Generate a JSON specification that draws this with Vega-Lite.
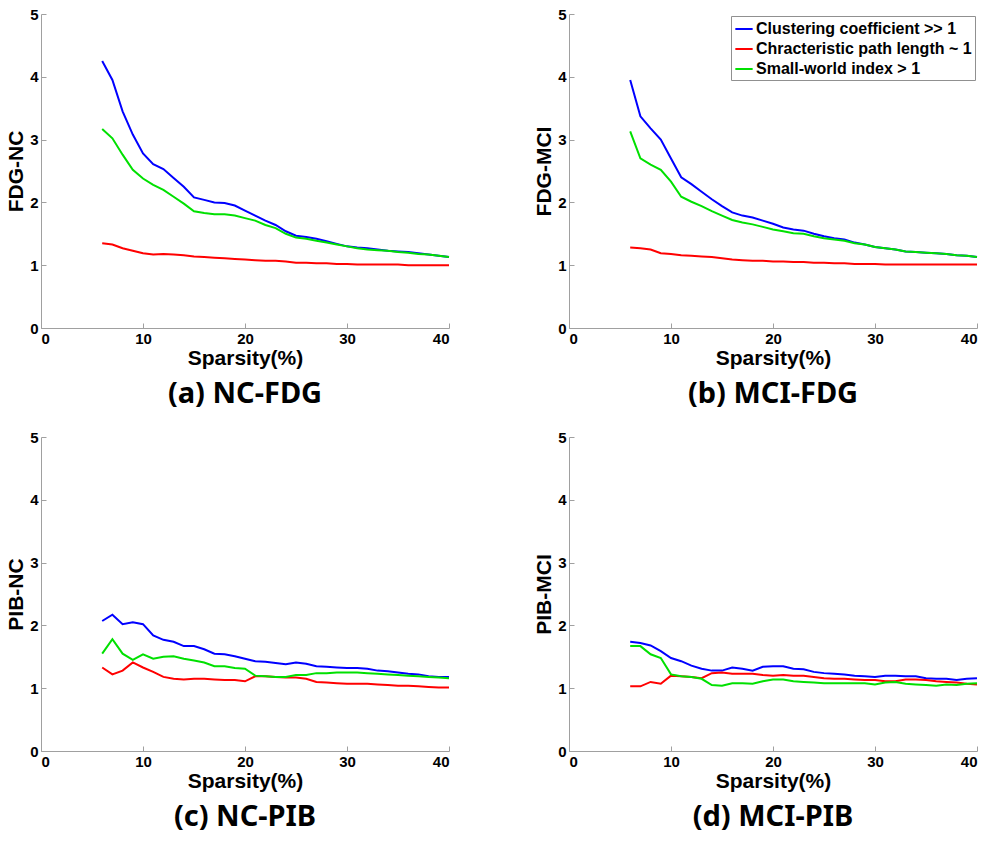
{
"$schema":"https://vega.github.io/schema/vega-lite/v6.json",
"padding":{"left":5,"top":7,"right":0,"bottom":0},
"config":{"view":{"stroke":null},"font":"Liberation Sans",
"axis":{"grid":false,"domainColor":"#a0a0a0","tickColor":"#a0a0a0","tickSize":-5,"labelPadding":8,"labelColor":"black","labelFont":"Liberation Sans","labelFontWeight":"bold","labelFontSize":15,"titleFont":"Liberation Sans","titleFontWeight":"bold","titleFontSize":21,"titleColor":"black"},
"axisX":{"titlePadding":1},
"axisY":{"titlePadding":3},
"title":{"font":"Noto Sans","fontWeight":"bold","fontSize":29,"color":"black","offset":12}},
"datasets":{
"a":[
{"x":6,"s":"C","y":4.25},{"x":7,"s":"C","y":3.95},{"x":8,"s":"C","y":3.45},{"x":9,"s":"C","y":3.08},{"x":10,"s":"C","y":2.78},{"x":11,"s":"C","y":2.61},{"x":12,"s":"C","y":2.53},{"x":13,"s":"C","y":2.39},{"x":14,"s":"C","y":2.25},{"x":15,"s":"C","y":2.08},{"x":16,"s":"C","y":2.04},{"x":17,"s":"C","y":2.0},{"x":18,"s":"C","y":1.99},{"x":19,"s":"C","y":1.95},{"x":20,"s":"C","y":1.87},{"x":21,"s":"C","y":1.79},{"x":22,"s":"C","y":1.71},{"x":23,"s":"C","y":1.64},{"x":24,"s":"C","y":1.54},{"x":25,"s":"C","y":1.47},{"x":26,"s":"C","y":1.45},{"x":27,"s":"C","y":1.42},{"x":28,"s":"C","y":1.38},{"x":29,"s":"C","y":1.34},{"x":30,"s":"C","y":1.3},{"x":31,"s":"C","y":1.28},{"x":32,"s":"C","y":1.27},{"x":33,"s":"C","y":1.25},{"x":34,"s":"C","y":1.23},{"x":35,"s":"C","y":1.22},{"x":36,"s":"C","y":1.21},{"x":37,"s":"C","y":1.19},{"x":38,"s":"C","y":1.17},{"x":39,"s":"C","y":1.15},{"x":40,"s":"C","y":1.13},
{"x":6,"s":"L","y":1.35},{"x":7,"s":"L","y":1.33},{"x":8,"s":"L","y":1.27},{"x":9,"s":"L","y":1.23},{"x":10,"s":"L","y":1.19},{"x":11,"s":"L","y":1.17},{"x":12,"s":"L","y":1.18},{"x":13,"s":"L","y":1.17},{"x":14,"s":"L","y":1.16},{"x":15,"s":"L","y":1.14},{"x":16,"s":"L","y":1.13},{"x":17,"s":"L","y":1.12},{"x":18,"s":"L","y":1.11},{"x":19,"s":"L","y":1.1},{"x":20,"s":"L","y":1.09},{"x":21,"s":"L","y":1.08},{"x":22,"s":"L","y":1.07},{"x":23,"s":"L","y":1.07},{"x":24,"s":"L","y":1.06},{"x":25,"s":"L","y":1.04},{"x":26,"s":"L","y":1.04},{"x":27,"s":"L","y":1.03},{"x":28,"s":"L","y":1.03},{"x":29,"s":"L","y":1.02},{"x":30,"s":"L","y":1.02},{"x":31,"s":"L","y":1.01},{"x":32,"s":"L","y":1.01},{"x":33,"s":"L","y":1.01},{"x":34,"s":"L","y":1.01},{"x":35,"s":"L","y":1.01},{"x":36,"s":"L","y":1.0},{"x":37,"s":"L","y":1.0},{"x":38,"s":"L","y":1.0},{"x":39,"s":"L","y":1.0},{"x":40,"s":"L","y":1.0},
{"x":6,"s":"S","y":3.17},{"x":7,"s":"S","y":3.02},{"x":8,"s":"S","y":2.76},{"x":9,"s":"S","y":2.52},{"x":10,"s":"S","y":2.38},{"x":11,"s":"S","y":2.28},{"x":12,"s":"S","y":2.2},{"x":13,"s":"S","y":2.09},{"x":14,"s":"S","y":1.98},{"x":15,"s":"S","y":1.86},{"x":16,"s":"S","y":1.83},{"x":17,"s":"S","y":1.81},{"x":18,"s":"S","y":1.81},{"x":19,"s":"S","y":1.79},{"x":20,"s":"S","y":1.75},{"x":21,"s":"S","y":1.71},{"x":22,"s":"S","y":1.64},{"x":23,"s":"S","y":1.59},{"x":24,"s":"S","y":1.5},{"x":25,"s":"S","y":1.44},{"x":26,"s":"S","y":1.42},{"x":27,"s":"S","y":1.39},{"x":28,"s":"S","y":1.36},{"x":29,"s":"S","y":1.33},{"x":30,"s":"S","y":1.3},{"x":31,"s":"S","y":1.27},{"x":32,"s":"S","y":1.25},{"x":33,"s":"S","y":1.24},{"x":34,"s":"S","y":1.23},{"x":35,"s":"S","y":1.21},{"x":36,"s":"S","y":1.2},{"x":37,"s":"S","y":1.18},{"x":38,"s":"S","y":1.17},{"x":39,"s":"S","y":1.15},{"x":40,"s":"S","y":1.13}
],
"b":[
{"x":6,"s":"C","y":3.95},{"x":7,"s":"C","y":3.37},{"x":8,"s":"C","y":3.18},{"x":9,"s":"C","y":3.0},{"x":10,"s":"C","y":2.7},{"x":11,"s":"C","y":2.4},{"x":12,"s":"C","y":2.29},{"x":13,"s":"C","y":2.17},{"x":14,"s":"C","y":2.05},{"x":15,"s":"C","y":1.94},{"x":16,"s":"C","y":1.84},{"x":17,"s":"C","y":1.79},{"x":18,"s":"C","y":1.76},{"x":19,"s":"C","y":1.71},{"x":20,"s":"C","y":1.66},{"x":21,"s":"C","y":1.6},{"x":22,"s":"C","y":1.57},{"x":23,"s":"C","y":1.55},{"x":24,"s":"C","y":1.5},{"x":25,"s":"C","y":1.46},{"x":26,"s":"C","y":1.43},{"x":27,"s":"C","y":1.41},{"x":28,"s":"C","y":1.36},{"x":29,"s":"C","y":1.33},{"x":30,"s":"C","y":1.29},{"x":31,"s":"C","y":1.27},{"x":32,"s":"C","y":1.25},{"x":33,"s":"C","y":1.22},{"x":34,"s":"C","y":1.21},{"x":35,"s":"C","y":1.2},{"x":36,"s":"C","y":1.19},{"x":37,"s":"C","y":1.18},{"x":38,"s":"C","y":1.16},{"x":39,"s":"C","y":1.15},{"x":40,"s":"C","y":1.13},
{"x":6,"s":"L","y":1.28},{"x":7,"s":"L","y":1.27},{"x":8,"s":"L","y":1.25},{"x":9,"s":"L","y":1.19},{"x":10,"s":"L","y":1.18},{"x":11,"s":"L","y":1.16},{"x":12,"s":"L","y":1.15},{"x":13,"s":"L","y":1.14},{"x":14,"s":"L","y":1.13},{"x":15,"s":"L","y":1.11},{"x":16,"s":"L","y":1.09},{"x":17,"s":"L","y":1.08},{"x":18,"s":"L","y":1.07},{"x":19,"s":"L","y":1.07},{"x":20,"s":"L","y":1.06},{"x":21,"s":"L","y":1.06},{"x":22,"s":"L","y":1.05},{"x":23,"s":"L","y":1.05},{"x":24,"s":"L","y":1.04},{"x":25,"s":"L","y":1.04},{"x":26,"s":"L","y":1.03},{"x":27,"s":"L","y":1.03},{"x":28,"s":"L","y":1.02},{"x":29,"s":"L","y":1.02},{"x":30,"s":"L","y":1.02},{"x":31,"s":"L","y":1.01},{"x":32,"s":"L","y":1.01},{"x":33,"s":"L","y":1.01},{"x":34,"s":"L","y":1.01},{"x":35,"s":"L","y":1.01},{"x":36,"s":"L","y":1.01},{"x":37,"s":"L","y":1.01},{"x":38,"s":"L","y":1.01},{"x":39,"s":"L","y":1.01},{"x":40,"s":"L","y":1.01},
{"x":6,"s":"S","y":3.13},{"x":7,"s":"S","y":2.7},{"x":8,"s":"S","y":2.6},{"x":9,"s":"S","y":2.52},{"x":10,"s":"S","y":2.33},{"x":11,"s":"S","y":2.09},{"x":12,"s":"S","y":2.01},{"x":13,"s":"S","y":1.94},{"x":14,"s":"S","y":1.86},{"x":15,"s":"S","y":1.79},{"x":16,"s":"S","y":1.72},{"x":17,"s":"S","y":1.68},{"x":18,"s":"S","y":1.65},{"x":19,"s":"S","y":1.61},{"x":20,"s":"S","y":1.57},{"x":21,"s":"S","y":1.54},{"x":22,"s":"S","y":1.51},{"x":23,"s":"S","y":1.5},{"x":24,"s":"S","y":1.46},{"x":25,"s":"S","y":1.43},{"x":26,"s":"S","y":1.41},{"x":27,"s":"S","y":1.39},{"x":28,"s":"S","y":1.35},{"x":29,"s":"S","y":1.33},{"x":30,"s":"S","y":1.29},{"x":31,"s":"S","y":1.27},{"x":32,"s":"S","y":1.25},{"x":33,"s":"S","y":1.22},{"x":34,"s":"S","y":1.21},{"x":35,"s":"S","y":1.2},{"x":36,"s":"S","y":1.19},{"x":37,"s":"S","y":1.18},{"x":38,"s":"S","y":1.16},{"x":39,"s":"S","y":1.15},{"x":40,"s":"S","y":1.13}
],
"c":[
{"x":6,"s":"C","y":2.07},{"x":7,"s":"C","y":2.17},{"x":8,"s":"C","y":2.02},{"x":9,"s":"C","y":2.05},{"x":10,"s":"C","y":2.02},{"x":11,"s":"C","y":1.84},{"x":12,"s":"C","y":1.77},{"x":13,"s":"C","y":1.74},{"x":14,"s":"C","y":1.67},{"x":15,"s":"C","y":1.67},{"x":16,"s":"C","y":1.62},{"x":17,"s":"C","y":1.55},{"x":18,"s":"C","y":1.54},{"x":19,"s":"C","y":1.51},{"x":20,"s":"C","y":1.47},{"x":21,"s":"C","y":1.43},{"x":22,"s":"C","y":1.42},{"x":23,"s":"C","y":1.4},{"x":24,"s":"C","y":1.38},{"x":25,"s":"C","y":1.41},{"x":26,"s":"C","y":1.39},{"x":27,"s":"C","y":1.35},{"x":28,"s":"C","y":1.34},{"x":29,"s":"C","y":1.33},{"x":30,"s":"C","y":1.32},{"x":31,"s":"C","y":1.32},{"x":32,"s":"C","y":1.31},{"x":33,"s":"C","y":1.28},{"x":34,"s":"C","y":1.27},{"x":35,"s":"C","y":1.25},{"x":36,"s":"C","y":1.23},{"x":37,"s":"C","y":1.22},{"x":38,"s":"C","y":1.19},{"x":39,"s":"C","y":1.18},{"x":40,"s":"C","y":1.18},
{"x":6,"s":"L","y":1.33},{"x":7,"s":"L","y":1.22},{"x":8,"s":"L","y":1.28},{"x":9,"s":"L","y":1.41},{"x":10,"s":"L","y":1.33},{"x":11,"s":"L","y":1.26},{"x":12,"s":"L","y":1.18},{"x":13,"s":"L","y":1.15},{"x":14,"s":"L","y":1.14},{"x":15,"s":"L","y":1.15},{"x":16,"s":"L","y":1.15},{"x":17,"s":"L","y":1.14},{"x":18,"s":"L","y":1.13},{"x":19,"s":"L","y":1.13},{"x":20,"s":"L","y":1.11},{"x":21,"s":"L","y":1.19},{"x":22,"s":"L","y":1.19},{"x":23,"s":"L","y":1.18},{"x":24,"s":"L","y":1.17},{"x":25,"s":"L","y":1.17},{"x":26,"s":"L","y":1.15},{"x":27,"s":"L","y":1.1},{"x":28,"s":"L","y":1.09},{"x":29,"s":"L","y":1.08},{"x":30,"s":"L","y":1.07},{"x":31,"s":"L","y":1.07},{"x":32,"s":"L","y":1.07},{"x":33,"s":"L","y":1.06},{"x":34,"s":"L","y":1.05},{"x":35,"s":"L","y":1.04},{"x":36,"s":"L","y":1.04},{"x":37,"s":"L","y":1.03},{"x":38,"s":"L","y":1.02},{"x":39,"s":"L","y":1.01},{"x":40,"s":"L","y":1.01},
{"x":6,"s":"S","y":1.55},{"x":7,"s":"S","y":1.78},{"x":8,"s":"S","y":1.55},{"x":9,"s":"S","y":1.45},{"x":10,"s":"S","y":1.54},{"x":11,"s":"S","y":1.47},{"x":12,"s":"S","y":1.5},{"x":13,"s":"S","y":1.51},{"x":14,"s":"S","y":1.47},{"x":15,"s":"S","y":1.44},{"x":16,"s":"S","y":1.41},{"x":17,"s":"S","y":1.35},{"x":18,"s":"S","y":1.35},{"x":19,"s":"S","y":1.32},{"x":20,"s":"S","y":1.31},{"x":21,"s":"S","y":1.2},{"x":22,"s":"S","y":1.19},{"x":23,"s":"S","y":1.18},{"x":24,"s":"S","y":1.18},{"x":25,"s":"S","y":1.21},{"x":26,"s":"S","y":1.21},{"x":27,"s":"S","y":1.24},{"x":28,"s":"S","y":1.24},{"x":29,"s":"S","y":1.25},{"x":30,"s":"S","y":1.25},{"x":31,"s":"S","y":1.25},{"x":32,"s":"S","y":1.24},{"x":33,"s":"S","y":1.23},{"x":34,"s":"S","y":1.22},{"x":35,"s":"S","y":1.21},{"x":36,"s":"S","y":1.2},{"x":37,"s":"S","y":1.19},{"x":38,"s":"S","y":1.18},{"x":39,"s":"S","y":1.17},{"x":40,"s":"S","y":1.16}
],
"d":[
{"x":6,"s":"C","y":1.74},{"x":7,"s":"C","y":1.72},{"x":8,"s":"C","y":1.68},{"x":9,"s":"C","y":1.59},{"x":10,"s":"C","y":1.48},{"x":11,"s":"C","y":1.43},{"x":12,"s":"C","y":1.36},{"x":13,"s":"C","y":1.31},{"x":14,"s":"C","y":1.28},{"x":15,"s":"C","y":1.28},{"x":16,"s":"C","y":1.33},{"x":17,"s":"C","y":1.31},{"x":18,"s":"C","y":1.28},{"x":19,"s":"C","y":1.34},{"x":20,"s":"C","y":1.35},{"x":21,"s":"C","y":1.35},{"x":22,"s":"C","y":1.31},{"x":23,"s":"C","y":1.3},{"x":24,"s":"C","y":1.26},{"x":25,"s":"C","y":1.24},{"x":26,"s":"C","y":1.23},{"x":27,"s":"C","y":1.22},{"x":28,"s":"C","y":1.2},{"x":29,"s":"C","y":1.19},{"x":30,"s":"C","y":1.18},{"x":31,"s":"C","y":1.2},{"x":32,"s":"C","y":1.2},{"x":33,"s":"C","y":1.19},{"x":34,"s":"C","y":1.19},{"x":35,"s":"C","y":1.16},{"x":36,"s":"C","y":1.15},{"x":37,"s":"C","y":1.15},{"x":38,"s":"C","y":1.13},{"x":39,"s":"C","y":1.15},{"x":40,"s":"C","y":1.16},
{"x":6,"s":"L","y":1.03},{"x":7,"s":"L","y":1.03},{"x":8,"s":"L","y":1.1},{"x":9,"s":"L","y":1.07},{"x":10,"s":"L","y":1.2},{"x":11,"s":"L","y":1.19},{"x":12,"s":"L","y":1.18},{"x":13,"s":"L","y":1.16},{"x":14,"s":"L","y":1.24},{"x":15,"s":"L","y":1.25},{"x":16,"s":"L","y":1.23},{"x":17,"s":"L","y":1.23},{"x":18,"s":"L","y":1.23},{"x":19,"s":"L","y":1.21},{"x":20,"s":"L","y":1.2},{"x":21,"s":"L","y":1.21},{"x":22,"s":"L","y":1.2},{"x":23,"s":"L","y":1.2},{"x":24,"s":"L","y":1.18},{"x":25,"s":"L","y":1.16},{"x":26,"s":"L","y":1.15},{"x":27,"s":"L","y":1.15},{"x":28,"s":"L","y":1.14},{"x":29,"s":"L","y":1.13},{"x":30,"s":"L","y":1.13},{"x":31,"s":"L","y":1.11},{"x":32,"s":"L","y":1.11},{"x":33,"s":"L","y":1.14},{"x":34,"s":"L","y":1.14},{"x":35,"s":"L","y":1.13},{"x":36,"s":"L","y":1.11},{"x":37,"s":"L","y":1.1},{"x":38,"s":"L","y":1.09},{"x":39,"s":"L","y":1.07},{"x":40,"s":"L","y":1.06},
{"x":6,"s":"S","y":1.67},{"x":7,"s":"S","y":1.67},{"x":8,"s":"S","y":1.54},{"x":9,"s":"S","y":1.48},{"x":10,"s":"S","y":1.22},{"x":11,"s":"S","y":1.19},{"x":12,"s":"S","y":1.18},{"x":13,"s":"S","y":1.15},{"x":14,"s":"S","y":1.05},{"x":15,"s":"S","y":1.04},{"x":16,"s":"S","y":1.08},{"x":17,"s":"S","y":1.08},{"x":18,"s":"S","y":1.07},{"x":19,"s":"S","y":1.11},{"x":20,"s":"S","y":1.14},{"x":21,"s":"S","y":1.14},{"x":22,"s":"S","y":1.11},{"x":23,"s":"S","y":1.1},{"x":24,"s":"S","y":1.09},{"x":25,"s":"S","y":1.08},{"x":26,"s":"S","y":1.08},{"x":27,"s":"S","y":1.08},{"x":28,"s":"S","y":1.08},{"x":29,"s":"S","y":1.08},{"x":30,"s":"S","y":1.06},{"x":31,"s":"S","y":1.09},{"x":32,"s":"S","y":1.1},{"x":33,"s":"S","y":1.07},{"x":34,"s":"S","y":1.06},{"x":35,"s":"S","y":1.05},{"x":36,"s":"S","y":1.04},{"x":37,"s":"S","y":1.06},{"x":38,"s":"S","y":1.05},{"x":39,"s":"S","y":1.07},{"x":40,"s":"S","y":1.08}
]
},
"resolve":{"scale":{"color":"independent"}},
"spacing":21,
"vconcat":[
{"hconcat":[
{"width":408,"height":314,"data":{"name":"a"},"mark":{"type":"line","strokeWidth":2},
"title":{"text":"(a) NC-FDG","orient":"bottom"},
"encoding":{"x":{"field":"x","type":"quantitative","scale":{"domain":[0,40]},"axis":{"values":[0,10,20,30,40],"title":"Sparsity(%)"}},
"y":{"field":"y","type":"quantitative","scale":{"domain":[0,5]},"axis":{"values":[0,1,2,3,4,5],"title":"FDG-NC"}},
"color":{"field":"s","type":"nominal","scale":{"domain":["C","L","S"],"range":["#0000ff","#ff0000","#00e000"]},"legend":null}}},
{"width":408,"height":314,"data":{"name":"b"},"mark":{"type":"line","strokeWidth":2},
"title":{"text":"(b) MCI-FDG","orient":"bottom"},
"encoding":{"x":{"field":"x","type":"quantitative","scale":{"domain":[0,40]},"axis":{"values":[0,10,20,30,40],"title":"Sparsity(%)"}},
"y":{"field":"y","type":"quantitative","scale":{"domain":[0,5]},"axis":{"values":[0,1,2,3,4,5],"title":"FDG-MCI"}},
"color":{"field":"s","type":"nominal","scale":{"domain":["C","L","S"],"range":["#0000ff","#ff0000","#00e000"]},
"legend":{"orient":"top-right","title":null,"offset":2,"labelExpr":"datum.label == 'C' ? 'Clustering coefficient >> 1' : datum.label == 'L' ? 'Chracteristic path length ~ 1' : 'Small-world index > 1'","symbolType":"stroke","symbolStrokeWidth":2,"symbolSize":300,"symbolOffset":0,"strokeColor":"#909090","fillColor":"white","padding":3,"labelFontSize":16,"labelFontWeight":"bold","labelFont":"Liberation Sans","labelColor":"black","labelLimit":400,"rowPadding":2,"labelOffset":2}}}}
],"spacing":80,"resolve":{"scale":{"color":"independent"}}},
{"hconcat":[
{"width":408,"height":314,"data":{"name":"c"},"mark":{"type":"line","strokeWidth":2},
"title":{"text":"(c) NC-PIB","orient":"bottom"},
"encoding":{"x":{"field":"x","type":"quantitative","scale":{"domain":[0,40]},"axis":{"values":[0,10,20,30,40],"title":"Sparsity(%)"}},
"y":{"field":"y","type":"quantitative","scale":{"domain":[0,5]},"axis":{"values":[0,1,2,3,4,5],"title":"PIB-NC"}},
"color":{"field":"s","type":"nominal","scale":{"domain":["C","L","S"],"range":["#0000ff","#ff0000","#00e000"]},"legend":null}}},
{"width":408,"height":314,"data":{"name":"d"},"mark":{"type":"line","strokeWidth":2},
"title":{"text":"(d) MCI-PIB","orient":"bottom"},
"encoding":{"x":{"field":"x","type":"quantitative","scale":{"domain":[0,40]},"axis":{"values":[0,10,20,30,40],"title":"Sparsity(%)"}},
"y":{"field":"y","type":"quantitative","scale":{"domain":[0,5]},"axis":{"values":[0,1,2,3,4,5],"title":"PIB-MCI"}},
"color":{"field":"s","type":"nominal","scale":{"domain":["C","L","S"],"range":["#0000ff","#ff0000","#00e000"]},"legend":null}}}
],"spacing":80,"resolve":{"scale":{"color":"independent"}}}
]
}
